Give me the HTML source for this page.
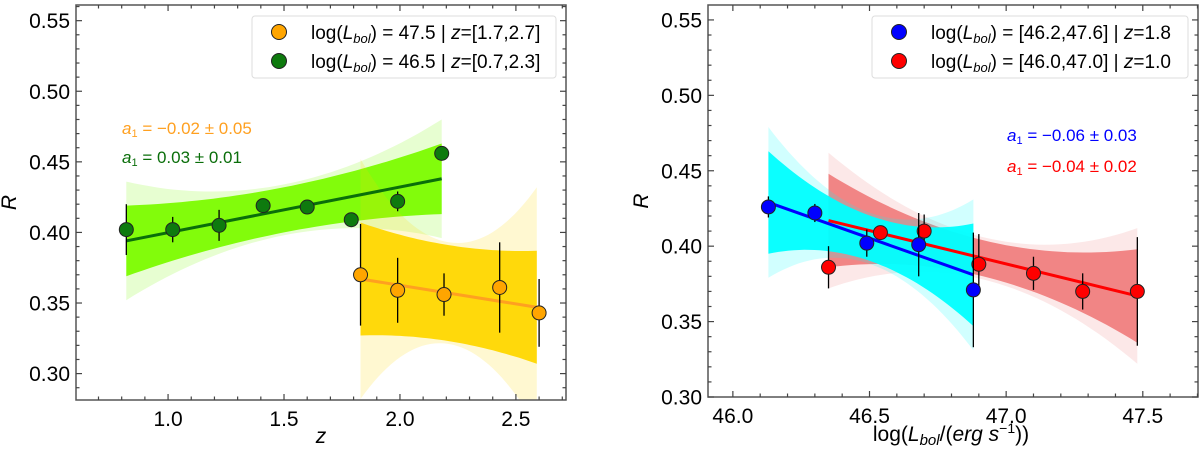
<!DOCTYPE html>
<html><head><meta charset="utf-8"><style>
body{margin:0;background:#fff;}
svg{display:block;font-family:"Liberation Sans",sans-serif;}
</style></head><body>
<svg id="c" width="1200" height="454"></svg>
<script>
// ---- data: left panel (R vs z) ----
const greenZ=[0.82,1.02,1.22,1.41,1.60,1.79,1.99,2.18];
const greenR=[0.402,0.402,0.405,0.419,0.418,0.409,0.422,0.456];
const greenErr=[0.018,0.009,0.011,0.003,0.003,0.003,0.007,0.003];
const greenFit=[0.82,0.394,2.18,0.438];
const greenBand=[0.025,0.016];
const greenOuter=[0.042,0.018];
const orangeZ=[1.83,1.99,2.19,2.43,2.60];
const orangeR=[0.370,0.359,0.356,0.361,0.343];
const orangeErr=[0.036,0.023,0.015,0.032,0.024];
const orangeFit=[1.83,0.367,2.59,0.347];
const orangeBand=[0.040,0.034];
const orangeOuter=[0.085,0.036];
// ---- data: right panel (R vs log Lbol) ----
const blueL=[46.13,46.30,46.49,46.68,46.88];
const blueR=[0.426,0.422,0.402,0.401,0.371];
const blueErr=[0.007,0.006,0.009,0.021,0.038];
const blueFit=[46.13,0.429,46.88,0.381];
const blueBand=[0.034,0.015];
const blueOuter=[0.05,0.017];
const redL=[46.35,46.54,46.70,46.90,47.10,47.28,47.48];
const redR=[0.386,0.409,0.410,0.388,0.382,0.370,0.370];
const redErr=[0.014,0.003,0.011,0.020,0.011,0.012,0.036];
const redFit=[46.35,0.417,47.48,0.367];
const redBand=[0.031,0.012];
const redOuter=[0.045,0.014];
const leftXTicks=["1.0","1.5","2.0","2.5"];
const rightXTicks=["46.0","46.5","47.0","47.5"];
const yTicks=["0.30","0.35","0.40","0.45","0.50","0.55"];

const NS="http://www.w3.org/2000/svg";
const svg=document.getElementById('c');
function el(t,a,p){const e=document.createElementNS(NS,t);for(const k in a)e.setAttribute(k,a[k]);(p||svg).appendChild(e);return e;}

function panel(o){
  const g=el('g',{});
  
  
  const X=v=>o.x0+(v-o.xmin)/(o.xmax-o.xmin)*(o.x1-o.x0);
  const Y=v=>o.y1-(v-o.ymin)/(o.ymax-o.ymin)*(o.y1-o.y0);
  const clip=el('clipPath',{id:o.name+'-clip'},g);
  el('rect',{x:o.x0,y:o.y0,width:o.x1-o.x0,height:o.y1-o.y0},clip);
  const pg=el('g',{'clip-path':`url(#${o.name}-clip)`},g);
  function poly(fit,bw,fill,op,nm){
    const n=40,up=[],lo=[];
    const xm=(fit[0]+fit[2])/2,h=(fit[2]-fit[0])/2;
    for(let i=0;i<=n;i++){const x=fit[0]+(fit[2]-fit[0])*i/n;
      const y=fit[1]+(fit[3]-fit[1])*i/n;const t=(x-xm)/h;
      const w=bw[1]+(bw[0]-bw[1])*t*t;
      up.push([X(x),Y(y+w)]);lo.push([X(x),Y(y-w)]);}
    const pts=a=>a.map(p=>p[0].toFixed(1)+','+p[1].toFixed(1)).join(' ');
    const b=el('polygon',{points:pts(up)+' '+pts(lo.reverse()),fill:fill,opacity:op},pg);
    
    
  }
  o.series.forEach(s=>{poly(s.fit,s.outer,s.bandColor,0.18,s.id+'-band-outer');poly(s.fit,s.band,s.bandColor,0.95,s.id+'-band');});
  o.series.forEach(s=>{
    const l=el('line',{x1:X(s.fit[0]),y1:Y(s.fit[1]),x2:X(s.fit[2]),y2:Y(s.fit[3]),stroke:s.lineColor,'stroke-width':3},pg);
    
    
  });
  o.series.forEach(s=>{
    s.x.forEach((xv,i)=>{
      const e=el('line',{x1:X(xv),x2:X(xv),y1:Y(s.y[i]-s.err[i]),y2:Y(s.y[i]+s.err[i]),stroke:'#000','stroke-width':1.3},g);
      
      
      const c=el('circle',{cx:X(xv),cy:Y(s.y[i]),r:7,fill:s.color,stroke:'#222','stroke-width':1},g);
      
      
    });
  });
  const f=el('rect',{x:o.x0,y:o.y0,width:o.x1-o.x0,height:o.y1-o.y0,fill:'none',stroke:'#555','stroke-width':1.5},g);
  
  
  for(let v=Math.ceil(o.xmin*10-1e-6);v<=o.xmax*10+1e-6;v++){
    const xv=v/10,px=X(xv),maj=v%5===0,L=maj?6:3.5;
    el('line',{x1:px,x2:px,y1:o.y1,y2:o.y1-L,stroke:'#444','stroke-width':1.2},g);
    el('line',{x1:px,x2:px,y1:o.y0,y2:o.y0+L,stroke:'#444','stroke-width':1.2},g);
  }
  o.xTicks.forEach(t=>{const tx=el('text',{x:X(parseFloat(t)),y:o.y1+26,'text-anchor':'middle','font-size':21},g);tx.textContent=t;
    });
  for(let v=Math.ceil(o.ymin*100-1e-6);v<=o.ymax*100+1e-6;v++){
    const py=Y(v/100),maj=v%5===0,L=maj?6:3.5;
    el('line',{x1:o.x0,x2:o.x0+L,y1:py,y2:py,stroke:'#444','stroke-width':1.2},g);
    el('line',{x1:o.x1,x2:o.x1-L,y1:py,y2:py,stroke:'#444','stroke-width':1.2},g);
  }
  yTicks.forEach(t=>{const tx=el('text',{x:o.x0-6,y:Y(parseFloat(t))+7.5,'text-anchor':'end','font-size':21},g);tx.textContent=t;
    });
  const yx=o.x0-60;
  const yl=el('text',{x:yx,y:(o.y0+o.y1)/2,'text-anchor':'middle','font-size':21,'font-style':'italic',transform:`rotate(-90 ${yx} ${(o.y0+o.y1)/2})`},g);
  yl.textContent='R';
  const lg=el('g',{},g);
  el('rect',{x:o.leg[0],y:16,width:o.leg[1],height:62,rx:3,fill:'#fff',stroke:'#ddd'},lg);
  o.series.slice().reverse().forEach((s,i)=>{
    const yy=32+i*29;
    el('circle',{cx:o.leg[0]+27,cy:yy,r:7.5,fill:s.color,stroke:'#222'},lg);
    const t=el('text',{x:o.leg[0]+59,y:yy+7,'font-size':19},lg);
    t.innerHTML=s.label;
    
  });
  o.series.slice().reverse().forEach((s,i)=>{
    const t=el('text',{x:o.ann[0],y:o.ann[1]+i*o.ann[2],'font-size':17,fill:s.lineColor},g);
    t.innerHTML=`<tspan font-style="italic">a</tspan><tspan font-size="11" dy="3">1</tspan><tspan dy="-3"> = ${s.slope}</tspan>`;
    
  });
}
const lb='log(<tspan font-style="italic">L</tspan><tspan font-style="italic" font-size="13" dy="4">bol</tspan><tspan dy="-4">)</tspan>';
panel({name:'left-panel',x0:76,x1:566,y0:5,y1:400,xmin:0.603,xmax:2.716,ymin:0.2813,ymax:0.5611,xTicks:leftXTicks,
  leg:[252,304],ann:[122,134,29],
  series:[
   {id:'green',x:greenZ,y:greenR,err:greenErr,fit:greenFit,band:greenBand,outer:greenOuter,color:'#0e7a0e',lineColor:'#0a6e0a',bandColor:'#7cfc00',
    label:lb+' = 46.5 | <tspan font-style="italic">z</tspan>=[0.7,2.3]',slope:'0.03 ± 0.01'},
   {id:'orange',x:orangeZ,y:orangeR,err:orangeErr,fit:orangeFit,band:orangeBand,outer:orangeOuter,color:'#ffa500',lineColor:'#ffa020',bandColor:'#ffd700',
    label:lb+' = 47.5 | <tspan font-style="italic">z</tspan>=[1.7,2.7]',slope:'−0.02 ± 0.05'}]});
panel({name:'right-panel',x0:708,x1:1198,y0:5,y1:397,xmin:45.909,xmax:47.702,ymin:0.30,ymax:0.5599,xTicks:rightXTicks,
  leg:[872,316],ann:[1007,141,31],
  series:[
   {id:'red',x:redL,y:redR,err:redErr,fit:redFit,band:redBand,outer:redOuter,color:'#ff0000',lineColor:'#ff0000',bandColor:'#f08080',
    label:lb+' = [46.0,47.0] | <tspan font-style="italic">z</tspan>=1.0',slope:'−0.04 ± 0.02'},
   {id:'blue',x:blueL,y:blueR,err:blueErr,fit:blueFit,band:blueBand,outer:blueOuter,color:'#0000ff',lineColor:'#0000ff',bandColor:'#00ffff',
    label:lb+' = [46.2,47.6] | <tspan font-style="italic">z</tspan>=1.8',slope:'−0.06 ± 0.03'}]});
const xt1=el('text',{x:321,y:443,'text-anchor':'middle','font-size':21,'font-style':'italic'});xt1.textContent='z';

const xt2=el('text',{x:951,y:441,'text-anchor':'middle','font-size':21});
xt2.innerHTML='log(<tspan font-style="italic">L</tspan><tspan font-style="italic" font-size="15" dy="4">bol</tspan><tspan dy="-4">/(</tspan><tspan font-style="italic">erg s</tspan><tspan font-size="14" dy="-8">−1</tspan><tspan dy="8">))</tspan>';

</script>
</body></html>
